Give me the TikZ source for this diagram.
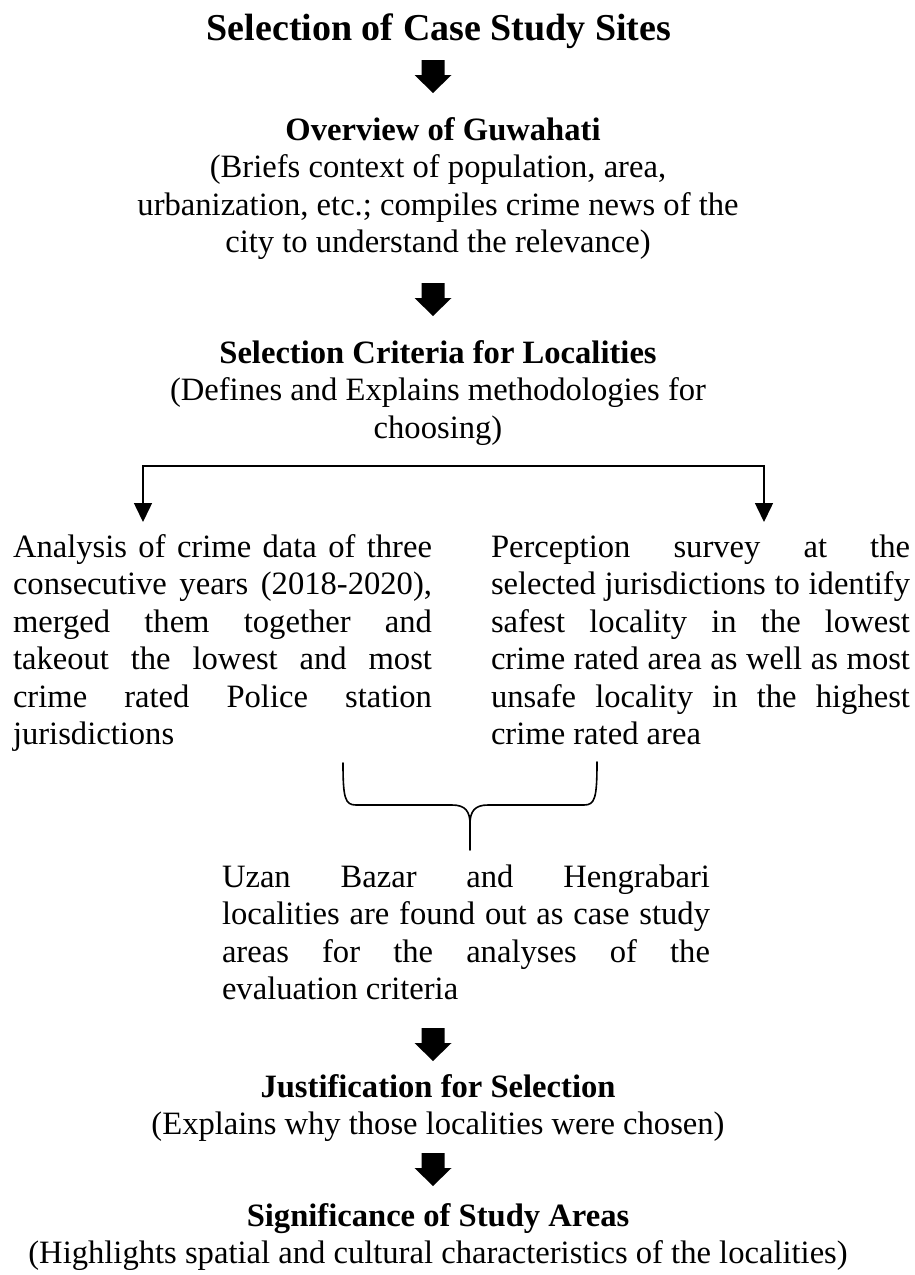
\documentclass[tikz,border=0pt]{standalone}
\usepackage{fontspec}
\setmainfont{Liberation Serif}
\usetikzlibrary{arrows.meta}
\hyphenpenalty=10000
\exhyphenpenalty=10000
\tolerance=9999
\tikzset{
  blockarrow/.pic={\fill[black] (-11.5,0) -- (11.5,0) -- (11.5,15) -- (18.5,15) -- (0,33) -- (-18.5,15) -- (-11.5,15) -- cycle;},
  body/.style={font=\fontsize{32.6}{37.5}\selectfont, inner sep=0pt, outer sep=0pt},
  head/.style={font=\fontsize{32.6}{37.5}\selectfont\bfseries, inner sep=0pt, outer sep=0pt},
  ttl/.style={font=\fontsize{38}{42}\selectfont\bfseries, inner sep=0pt, outer sep=0pt},
  para/.style={body, text width=#1, align=justify},
  conn/.style={line width=1.5pt, -{Triangle[width=18pt,length=19pt]}},
  bracepath/.style={line width=1.6pt, line join=round, line cap=round},
}
\begin{document}
\begin{tikzpicture}[x=1pt,y=-1pt]
\useasboundingbox[fill=white] (0,0) rectangle (915,1275);

\node[ttl, anchor=base] (title) at (439,40) {Selection of Case Study Sites};
\pic at (433,60) {blockarrow};

\node[head, anchor=base] (ov) at (443,140) {Overview of Guwahati};
\node[body, align=center, anchor=base] (ovd) at (438,252.5) {(Briefs context of population, area,\\urbanization, etc.; compiles crime news of the\\city to understand the relevance)};
\pic at (433,283) {blockarrow};

\node[head, anchor=base] (sc) at (438,363) {Selection Criteria for Localities};
\node[body, align=center, anchor=base] (scd) at (438,438) {(Defines and Explains methodologies for\\choosing)};

\coordinate (sl) at (143,466);
\coordinate (sr) at (764,466);
\coordinate (tl) at (143,522);
\coordinate (tr) at (764,522);
\draw[conn] (sr) -- (sl) -- (tl);
\draw[conn] (sl) -- (sr) -- (tr);

\node[para=419pt, anchor=base west] (lp) at (13,557) {Analysis of crime data of three\linebreak consecutive years (2018-2020),\linebreak merged them together and\linebreak takeout the lowest and most\linebreak crime rated Police station\linebreak jurisdictions};
\node[para=419pt, anchor=base west] (rp) at (491,557) {Perception survey at the\linebreak selected jurisdictions to identify\linebreak safest locality in the lowest\linebreak crime rated area as well as most\linebreak unsafe locality in the highest\linebreak crime rated area};

\coordinate (bL) at (343,763);
\coordinate (bR) at (597,762);
\coordinate (bT) at (470,850);
\draw[bracepath] (bL) .. controls (343,798) and (345,805) .. (356,805) -- (452,805) .. controls (465,805) and (470,811) .. (470,824) -- (bT);
\draw[bracepath] (bR) .. controls (597,798) and (595,805) .. (584,805) -- (488,805) .. controls (475,805) and (470,811) .. (470,824);

\node[para=488pt, anchor=base west] (res) at (222,887) {Uzan Bazar and Hengrabari\linebreak localities are found out as case study\linebreak areas for the analyses of the\linebreak evaluation criteria};
\pic at (433,1028) {blockarrow};

\node[head, anchor=base] (js) at (438,1097) {Justification for Selection};
\node[body, anchor=base] (jsd) at (438,1134) {(Explains why those localities were chosen)};
\pic at (433,1153) {blockarrow};

\node[head, anchor=base] (sg) at (438,1226) {Significance of Study Areas};
\node[body, anchor=base] (sgd) at (438,1263) {(Highlights spatial and cultural characteristics of the localities)};
\end{tikzpicture}
\end{document}
